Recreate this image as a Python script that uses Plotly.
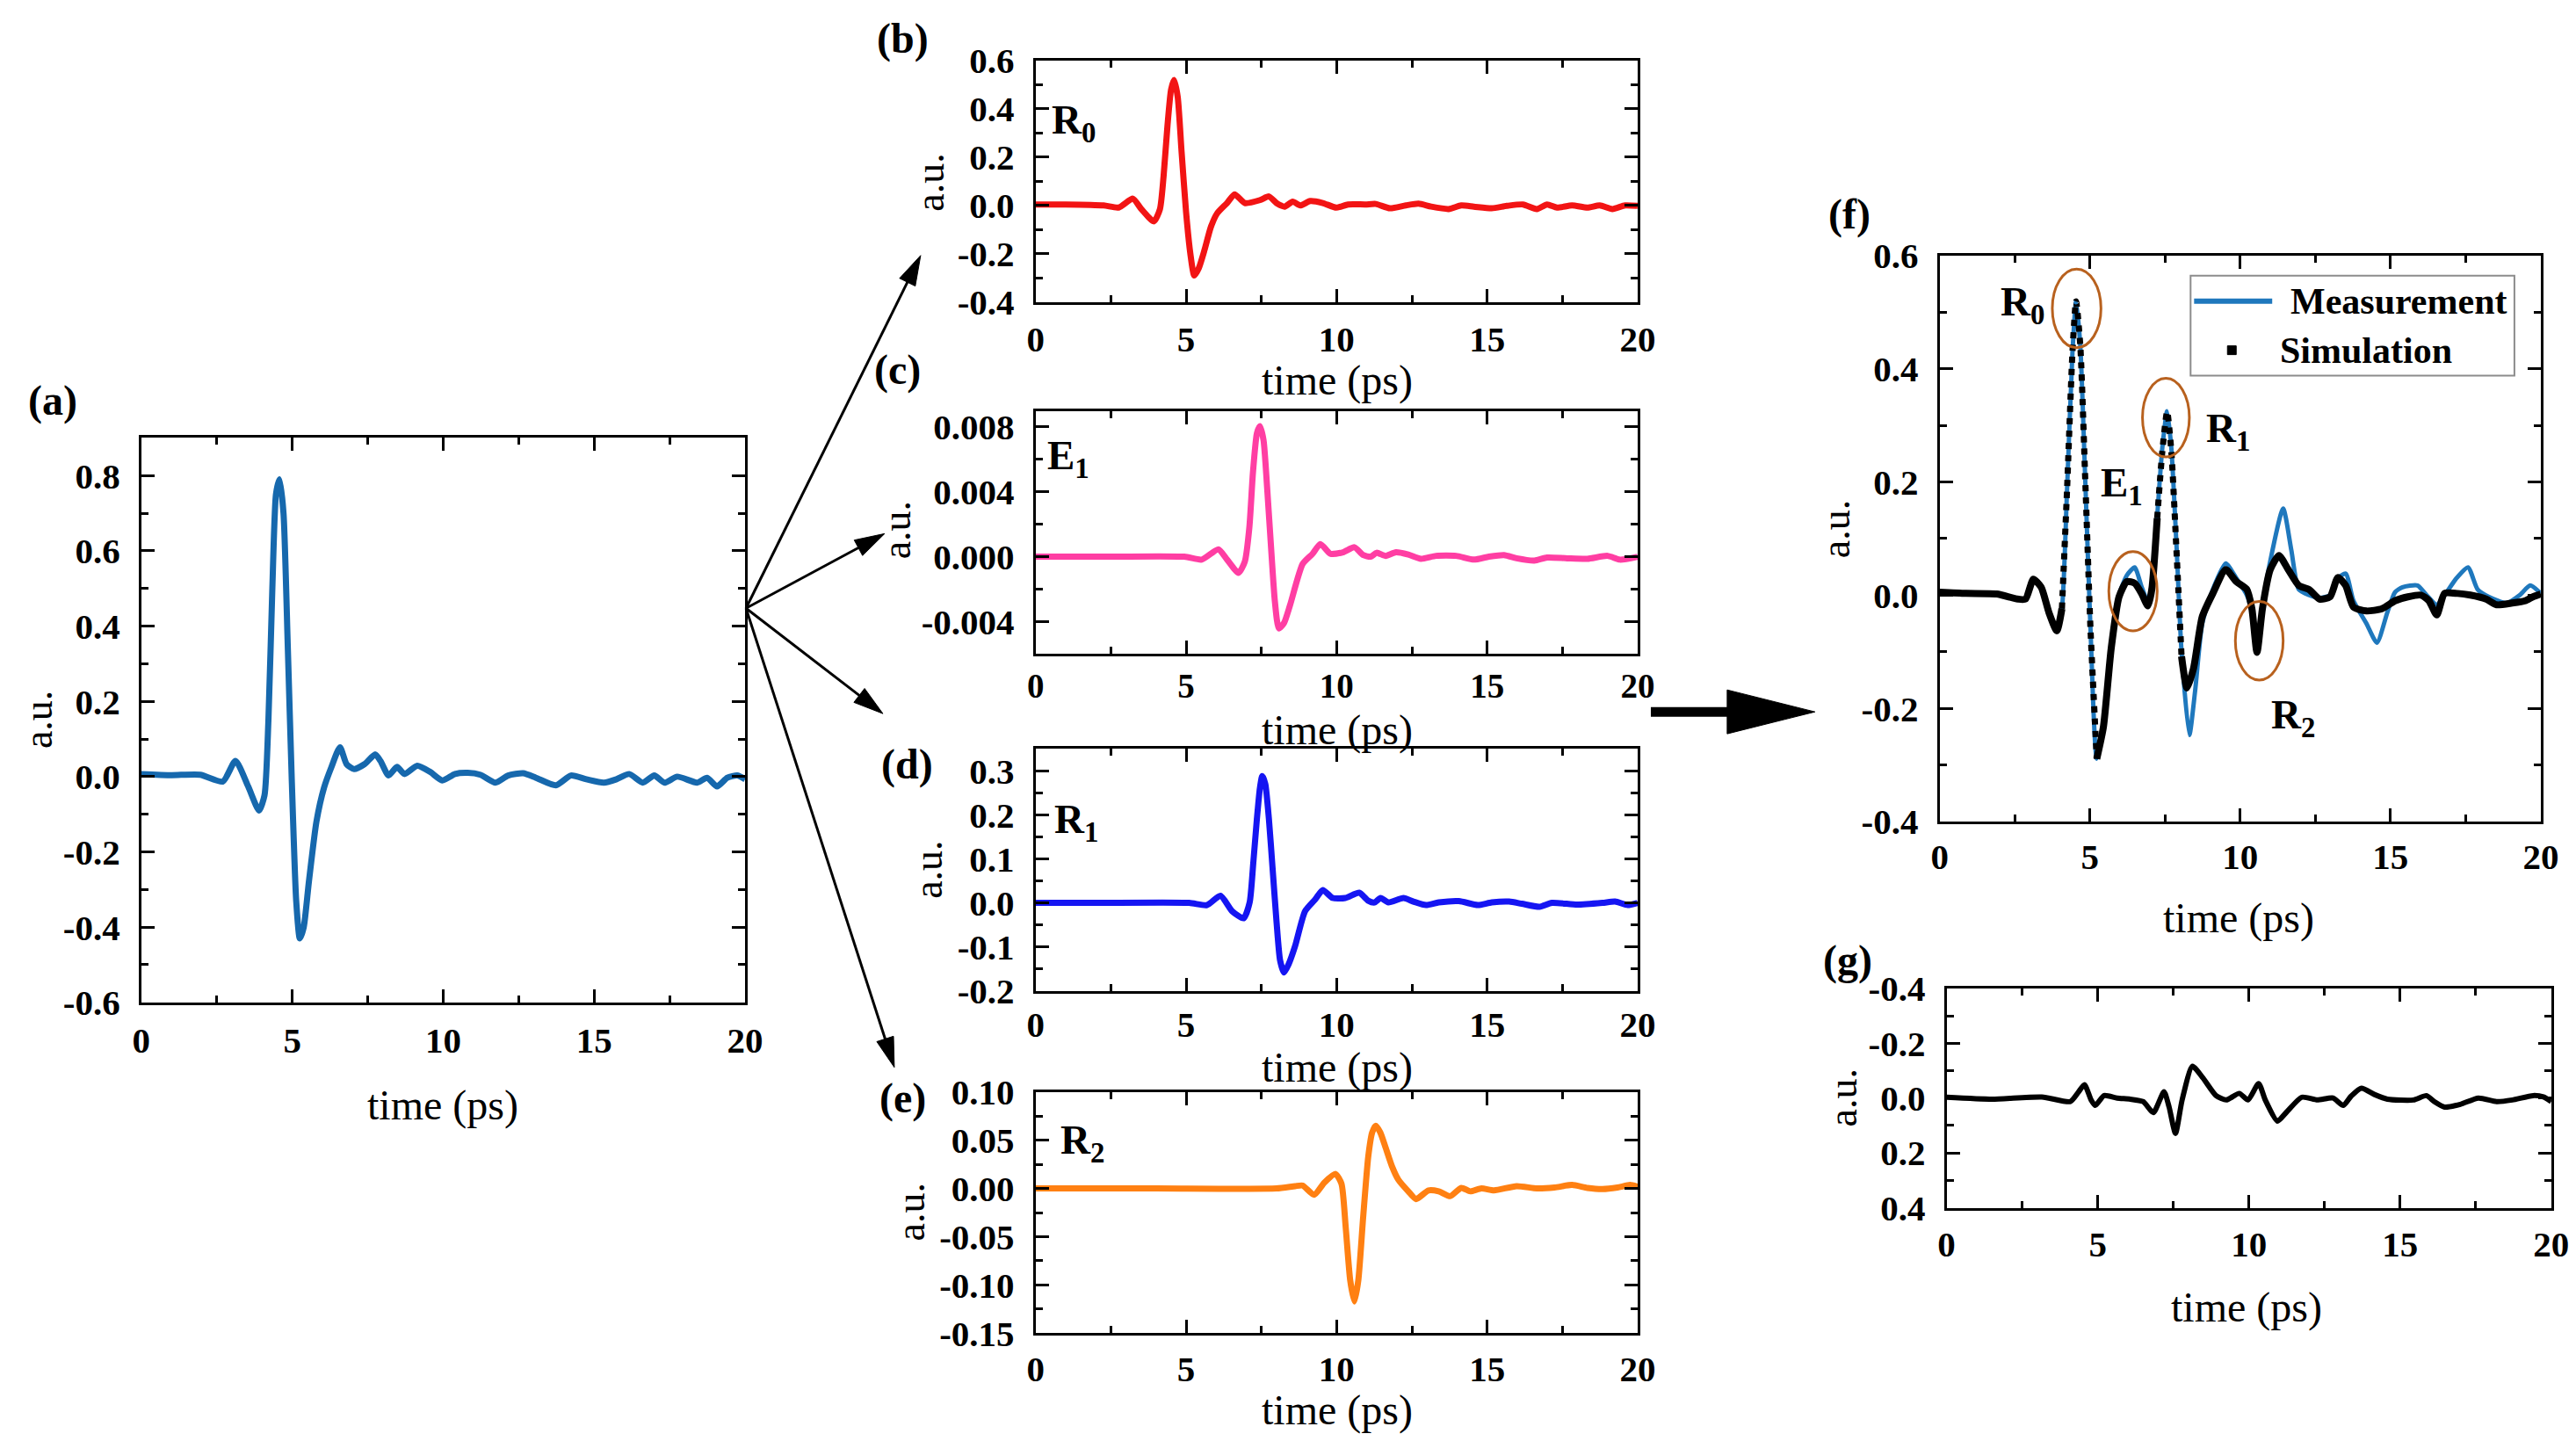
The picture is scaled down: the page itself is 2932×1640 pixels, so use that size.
import math
import plotly.graph_objects as go

# figure size; the photographed page maps figure pixels F to picture pixels R as
# R_x = OX + SX * F_x and R_y = OY + SY * F_y (measured), so positions are pre-compensated
W, H = 2932, 1640
OX, SX = 16.0, 0.9905
OY, SY = 30.0, 0.973
SERIF = "Liberation Serif"

# ---------------- data ----------------
# (a) measured THz signal
a_t = [0, 1.0, 1.95, 2.7, 3.12, 3.54, 3.9, 4.08, 4.21, 4.34, 4.46, 4.58, 4.71, 4.85, 4.98, 5.13, 5.25, 5.38,
       5.55, 5.8, 6.05, 6.3, 6.58, 6.8, 7.05, 7.39, 7.75, 7.92, 8.19, 8.47, 8.72, 9.14, 9.56, 9.97, 10.39,
       10.81, 11.23, 11.73, 12.15, 12.65, 13.07, 13.73, 14.23, 14.74, 15.32, 15.74, 16.16, 16.61, 16.99,
       17.33, 17.75, 18.41, 18.74, 19.07, 19.41, 19.74, 20]
a_v = [0.007, 0.004, 0.005, -0.013, 0.042, -0.026, -0.09, -0.05, 0.15, 0.5, 0.75, 0.79, 0.70, 0.35, 0.0, -0.33,
       -0.43, -0.40, -0.28, -0.12, -0.03, 0.026, 0.078, 0.033, 0.02, 0.033, 0.059, 0.042, 0.003, 0.026, 0.007,
       0.029, 0.013, -0.01, 0.007, 0.01, 0.005, -0.016, 0.003, 0.009, -0.003, -0.023, 0.003, -0.007, -0.016,
       -0.007, 0.007, -0.016, 0.003, -0.016, 0.0, -0.016, -0.003, -0.026, -0.003, 0.003, -0.007]

# (b) R0
b_t = [0, 1.0, 2.26, 2.76, 3.23, 3.51, 3.93, 4.13, 4.25, 4.38, 4.5, 4.6, 4.72, 4.85, 5.0, 5.14, 5.27, 5.42,
       5.61, 5.82, 6.03, 6.36, 6.61, 6.95, 7.45, 7.75, 8.03, 8.28, 8.54, 8.79, 9.12, 9.54, 9.99, 10.38, 10.96,
       11.3, 11.77, 12.3, 12.72, 13.14, 13.72, 14.14, 14.56, 15.15, 15.65, 16.19, 16.65, 16.99, 17.32, 17.82,
       18.33, 18.74, 19.16, 19.58, 20]
b_v = [0.004, 0.004, 0.0, -0.009, 0.028, -0.015, -0.066, -0.015, 0.12, 0.33, 0.48, 0.52, 0.45, 0.22, -0.03,
       -0.2, -0.29, -0.26, -0.185, -0.09, -0.033, 0.01, 0.046, 0.01, 0.022, 0.037, 0.007, -0.005, 0.016, 0.0,
       0.018, 0.01, -0.009, 0.004, 0.004, 0.006, -0.012, 0.0, 0.007, -0.005, -0.015, 0.0, -0.005, -0.012,
       -0.002, 0.004, -0.015, 0.004, -0.009, 0.0, -0.009, 0.0, -0.015, 0.0, -0.002]

# (c) E1
c_t = [0, 2.0, 4.94, 5.52, 6.07, 6.36, 6.74, 6.95, 7.1, 7.22, 7.35, 7.45, 7.57, 7.7, 7.82, 7.95, 8.08, 8.25,
       8.45, 8.87, 9.2, 9.46, 9.79, 10.21, 10.59, 10.88, 11.13, 11.33, 11.63, 11.97, 12.38, 12.8, 13.3, 13.97,
       14.56, 15.06, 15.56, 15.98, 16.57, 16.99, 17.66, 18.33, 19.0, 19.41, 20]
c_v = [0, 0, 0, -0.00018, 0.00045, -0.00018, -0.001, -0.0003, 0.0018, 0.0052, 0.0076, 0.00805, 0.0072, 0.004,
       0.0006, -0.0028, -0.00443, -0.0041, -0.003, -0.00045, 0.00018, 0.00078, 0.00018, 0.00027, 0.00058,
       0.0001, 0.0, 0.00024, 0.00005, 0.00027, 0.00013, -0.00013, 0.00005, 0.00005, -0.00018, 0.0, 0.0001,
       -0.0001, -0.00024, -0.00005, -0.0001, -0.00013, 0.00005, -0.00018, 0.0]

# (d) R1
d_t = [0, 2.0, 5.1, 5.69, 6.14, 6.53, 6.91, 7.11, 7.23, 7.35, 7.45, 7.53, 7.63, 7.75, 7.87, 8.0, 8.12, 8.25,
       8.4, 8.62, 8.95, 9.29, 9.54, 9.87, 10.29, 10.75, 11.05, 11.26, 11.46, 11.72, 12.22, 12.55, 12.97,
       13.39, 14.06, 14.69, 15.15, 15.73, 16.15, 16.74, 17.15, 17.99, 18.83, 19.25, 19.67, 20]
d_v = [0, 0, 0, -0.005, 0.016, -0.019, -0.035, 0.001, 0.09, 0.19, 0.26, 0.288, 0.27, 0.19, 0.08, -0.04, -0.13,
       -0.158, -0.14, -0.098, -0.019, 0.008, 0.029, 0.011, 0.011, 0.023, 0.005, 0.001, 0.011, 0.001, 0.011,
       0.003, -0.005, 0.001, 0.004, -0.005, 0.001, 0.003, -0.002, -0.009, 0.0, -0.004, 0.0, 0.003, -0.005, 0.0]

# (e) R2
e_t = [0, 4.0, 8.0, 8.62, 8.87, 9.25, 9.59, 9.96, 10.16, 10.3, 10.45, 10.59, 10.72, 10.88, 11.05, 11.18,
       11.3, 11.45, 11.63, 11.85, 12.05, 12.38, 12.64, 13.05, 13.39, 13.77, 14.14, 14.44, 14.81, 15.23,
       15.98, 16.65, 17.24, 17.82, 18.33, 18.83, 19.33, 19.75, 20]
e_v = [0, 0, 0, 0.0024, 0.003, -0.0066, 0.006, 0.015, 0.005, -0.04, -0.095, -0.117, -0.095, -0.03, 0.033,
       0.058, 0.065, 0.058, 0.042, 0.022, 0.009, -0.003, -0.011, -0.002, -0.003, -0.008, 0.0006, -0.003, 0.0,
       -0.002, 0.0024, 0.0, 0.001, 0.0036, 0.0006, -0.0006, 0.001, 0.0036, 0.0018]

# (f) measurement vs simulation
meas_t = [0, 0.87, 1.9, 2.6, 2.86, 3.12, 3.38, 3.64, 3.9, 4.07, 4.24, 4.42, 4.54, 4.68, 4.85, 5.02, 5.23, 5.45,
          5.71, 5.97, 6.23, 6.49, 6.72, 6.93, 7.06, 7.24, 7.41, 7.57, 7.71, 7.88, 8.05, 8.31, 8.5, 8.74, 9.09,
          9.52, 9.87, 10.22, 10.39, 10.56, 10.74, 11.0, 11.43, 11.7, 11.95, 12.29, 12.64, 12.99, 13.25, 13.51,
          13.77, 14.2, 14.55, 14.9, 15.15, 15.4, 15.9, 16.2, 16.54, 16.8, 17.2, 17.58, 17.9, 18.27, 18.87,
          19.3, 19.65, 20]
meas_v = [0.005, 0.003, 0.002, -0.007, -0.007, 0.028, 0.014, -0.031, -0.063, -0.024, 0.185, 0.428, 0.519, 0.442,
          0.198, -0.059, -0.289, -0.233, -0.094, 0.0, 0.035, 0.049, 0.015, -0.012, 0.02, 0.14, 0.26, 0.325,
          0.26, 0.09, -0.1, -0.247, -0.17, -0.05, 0.01, 0.056, 0.03, 0.0, -0.03, -0.09, -0.02, 0.06, 0.153,
          0.08, 0.01, 0.0, -0.005, 0.0, 0.03, 0.038, -0.01, -0.05, -0.084, -0.03, 0.005, 0.014, 0.017, 0.0,
          -0.017, 0.0, 0.03, 0.049, 0.01, -0.003, -0.014, 0.0, 0.017, 0.003]
sim_t = [0, 0.87, 1.9, 2.6, 2.86, 3.12, 3.38, 3.64, 3.9, 4.07, 4.24, 4.42, 4.54, 4.68, 4.85, 5.02, 5.23, 5.45,
         5.71, 5.97, 6.23, 6.49, 6.72, 6.93, 7.06, 7.24, 7.41, 7.57, 7.71, 7.88, 8.05, 8.23, 8.45, 8.74, 9.09,
         9.52, 9.87, 10.22, 10.39, 10.56, 10.74, 11.0, 11.29, 11.6, 11.95, 12.29, 12.64, 12.99, 13.25, 13.51,
         13.77, 14.2, 14.72, 15.15, 15.58, 16.02, 16.28, 16.54, 16.8, 17.23, 17.66, 18.18, 18.53, 19.05, 19.48,
         19.74, 20]
sim_v = [0.005, 0.003, 0.002, -0.007, -0.007, 0.028, 0.014, -0.031, -0.063, -0.024, 0.185, 0.428, 0.519, 0.442,
         0.198, -0.059, -0.289, -0.233, -0.094, -0.003, 0.024, 0.021, 0.003, -0.019, 0.01, 0.136, 0.254, 0.324,
         0.254, 0.08, -0.108, -0.164, -0.129, -0.038, 0.003, 0.045, 0.024, 0.01, -0.024, -0.101, -0.024, 0.045,
         0.07, 0.045, 0.017, 0.01, -0.007, -0.003, 0.031, 0.017, -0.021, -0.028, -0.024, -0.010, -0.003, 0.0,
         -0.010, -0.035, 0.003, 0.003, 0.0, -0.007, -0.017, -0.014, -0.01, -0.003, 0.002]

# (g) residual
g_t = [0, 1.51, 3.15, 4.09, 4.35, 4.56, 4.78, 4.92, 5.21, 5.64, 6.07, 6.5, 6.84, 7.19, 7.36, 7.57, 7.79, 8.13,
       8.48, 8.91, 9.25, 9.68, 9.97, 10.32, 10.54, 10.94, 11.23, 11.75, 12.26, 12.78, 13.12, 13.38, 13.72,
       14.15, 14.58, 15.44, 15.87, 16.13, 16.47, 16.99, 17.59, 18.19, 18.71, 19.4, 19.74, 20]
g_v = [-0.003, 0.004, -0.004, 0.013, -0.02, -0.049, 0.007, 0.027, -0.009, 0, 0.004, 0.013, 0.053, -0.023, 0.033,
       0.129, 0.007, -0.116, -0.073, -0.009, 0.007, -0.017, 0.007, -0.053, 0.007, 0.084, 0.053, -0.003, 0.007,
       0, 0.027, -0.007, -0.036, -0.013, 0.004, 0.007, -0.009, 0.013, 0.033, 0.023, 0, 0.013, 0.007, -0.009,
       -0.004, 0.013]

# tick labels
x_ticks = ["0", "5", "10", "15", "20"]
a_yticks = ["-0.6", "-0.4", "-0.2", "0.0", "0.2", "0.4", "0.6", "0.8"]
b_yticks = ["-0.4", "-0.2", "0.0", "0.2", "0.4", "0.6"]
c_yticks = ["-0.004", "0.000", "0.004", "0.008"]
d_yticks = ["-0.2", "-0.1", "0.0", "0.1", "0.2", "0.3"]
e_yticks = ["-0.15", "-0.10", "-0.05", "0.00", "0.05", "0.10"]
f_yticks = ["-0.4", "-0.2", "0.0", "0.2", "0.4", "0.6"]
g_yticks = ["-0.4", "-0.2", "0.0", "0.2", "0.4"]

# annotation markers in (f): ellipses (t0, t1, v0, v1) and labels
f_circles = [(3.75, 5.37, 0.437, 0.576), (5.63, 7.24, -0.063, 0.077),
             (6.75, 8.31, 0.244, 0.383), (9.84, 11.43, -0.15, -0.011)]
f_labels = [("R<sub>0</sub>", 2.77, 0.513), ("E<sub>1</sub>", 6.06, 0.194),
            ("R<sub>1</sub>", 9.6, 0.29), ("R<sub>2</sub>", 11.77, -0.216)]


# ---------------- layout helpers (positions given in picture pixels) ----------------
def px(x):
    return min(1.0, max(0.0, ((x - OX) / SX) / W))


def py(y):
    return min(1.0, max(0.0, 1 - ((y - OY) / SY) / H))


# panel plot areas in picture pixels: x0, x1, ytop, ybottom, x-label standoff, x-label size
panels = {
    1: (159, 847, 498, 1141, 5, 41),
    2: (1178, 1864, 68, 343, 4, 41),
    3: (1178, 1864, 467, 744, 0, 39),
    4: (1178, 1864, 852, 1128, 0, 41),
    5: (1178, 1864, 1243, 1518, 2, 41),
    6: (2208, 2893, 290, 935, 2, 41),
    7: (2216, 2905, 1125, 1375, 3, 41),
}
yranges = {1: [-0.6, 0.9], 2: [-0.4, 0.6], 3: [-0.006, 0.009], 4: [-0.2, 0.35],
           5: [-0.15, 0.10], 6: [-0.4, 0.6], 7: [0.4, -0.4]}
yticks = {1: a_yticks, 2: b_yticks, 3: c_yticks, 4: d_yticks, 5: e_yticks, 6: f_yticks, 7: g_yticks}
yminor_step = {1: 0.1, 2: 0.1, 3: 0.002, 4: 0.05, 5: 0.025, 6: 0.1, 7: 0.1}

fig = go.Figure()
layout = dict(width=W, height=H, margin=dict(l=0, r=0, t=0, b=0), autosize=False,
              paper_bgcolor="white", plot_bgcolor="white", showlegend=False)


def tickfont(size):
    return dict(family=SERIF, size=size, color="black", weight="bold")


def minor_vals(lo, hi, step):
    lo, hi = min(lo, hi), max(lo, hi)
    n = int(round((hi - lo) / step))
    return [round(lo + i * step, 6) for i in range(n + 1)]


for k, (x0, x1, yt, yb, so, xfs) in panels.items():
    sfx = "" if k == 1 else str(k)
    common = dict(showline=True, linewidth=3, linecolor="black", mirror="allticks",
                  ticks="inside", ticklen=15, tickwidth=3, tickcolor="black",
                  showgrid=False, zeroline=False)
    layout["xaxis" + sfx] = dict(
        domain=[px(x0), px(x1)], range=[0, 20], anchor="y" + sfx,
        tickmode="array", tickvals=[float(s) for s in x_ticks], ticktext=x_ticks,
        minor=dict(tickmode="array", tickvals=minor_vals(0, 20, 2.5), ticklen=8, tickwidth=3,
                   tickcolor="black", ticks="inside"),
        ticklabelstandoff=so, tickfont=tickfont(xfs), **common)
    yr = yranges[k]
    layout["yaxis" + sfx] = dict(
        domain=[py(yb), py(yt)], range=yr, anchor="x" + sfx,
        tickmode="array", tickvals=[float(s) for s in yticks[k]], ticktext=yticks[k],
        minor=dict(tickmode="array", tickvals=minor_vals(yr[0], yr[1], yminor_step[k]), ticklen=8,
                   tickwidth=3, tickcolor="black", ticks="inside"),
        ticklabelstandoff=13, tickfont=tickfont(41), **common)


def line_trace(t, v, k, color, width, name=None, dash="solid"):
    sfx = "" if k == 1 else str(k)
    return go.Scatter(x=t, y=v, mode="lines", xaxis="x" + sfx, yaxis="y" + sfx,
                      line=dict(color=color, width=width, shape="spline", smoothing=0.6, dash=dash),
                      name=name, showlegend=False, hoverinfo="skip")


fig.add_trace(line_trace(a_t, a_v, 1, "#1668ad", 7, "signal"))
fig.add_trace(line_trace(b_t, b_v, 2, "#f21414", 7, "R0"))
fig.add_trace(line_trace(c_t, c_v, 3, "#ff3ea3", 7, "E1"))
fig.add_trace(line_trace(d_t, d_v, 4, "#1515f2", 7, "R1"))
fig.add_trace(line_trace(e_t, e_v, 5, "#ff8012", 7, "R2"))
MEAS_COLOR = "#1f78bd"
fig.add_trace(line_trace(meas_t, meas_v, 6, MEAS_COLOR, 5, "Measurement"))

# simulation: solid where flat, dotted where the signal is steep
dotted_ranges = [(4.07, 5.23), (7.24, 8.05)]


def is_dotted(i0, i1):
    for lo, hi in dotted_ranges:
        if sim_t[i0] >= lo - 1e-9 and sim_t[i1] <= hi + 1e-9:
            return True
    return False


breaks = sorted({0, len(sim_t) - 1} | {min(range(len(sim_t)), key=lambda i: abs(sim_t[i] - b))
                                        for r in dotted_ranges for b in r})
for s, e in zip(breaks[:-1], breaks[1:]):
    dot = is_dotted(s, e)
    fig.add_trace(line_trace(sim_t[s:e + 1], sim_v[s:e + 1], 6, "black", 7 if dot else 8, "Simulation",
                             dash="dot" if dot else "solid"))
fig.add_trace(line_trace(g_t, g_v, 7, "black", 6, "residual"))

annotations = []
shapes = []


def text(x, y, s, size=44, bold=False, angle=0, xanchor="center"):
    annotations.append(dict(xref="paper", yref="paper", x=px(x), y=py(y), text=s, showarrow=False,
                            textangle=angle, xanchor=xanchor, yanchor="middle",
                            font=dict(family=SERIF, size=size, color="black",
                                      weight="bold" if bold else "normal")))


# panel letters
for s, x, y in [("(a)", 58, 455), ("(b)", 1027, 43), ("(c)", 1021, 420), ("(d)", 1032, 870),
                ("(e)", 1027, 1250), ("(f)", 2105, 243), ("(g)", 2103, 1093)]:
    text(x, y, s, size=48, bold=True)
# axis titles
for x, y in [(41, 819), (1058, 207), (1019, 603), (1056, 990), (1036, 1380), (2090, 602), (2098, 1250)]:
    text(x, y, "a.u.", size=46, angle=-90)
for x, y in [(503, 1258), (1522, 432), (1522, 831), (1522, 1215), (1522, 1606), (2549, 1045), (2558, 1489)]:
    text(x, y, "time (ps)", size=48)

# component labels inside b-e and in f
for k, s, t, v in [(2, "R<sub>0</sub>", 1.25, 0.345), (3, "E<sub>1</sub>", 1.1, 0.0061),
                   (4, "R<sub>1</sub>", 1.35, 0.184), (5, "R<sub>2</sub>", 1.55, 0.047)]:
    annotations.append(dict(xref="x%d" % k, yref="y%d" % k, x=t, y=v, text=s, showarrow=False,
                            font=dict(family=SERIF, size=47, color="black", weight="bold")))
for s, t, v in f_labels:
    annotations.append(dict(xref="x6", yref="y6", x=t, y=v, text=s, showarrow=False,
                            font=dict(family=SERIF, size=47, color="black", weight="bold")))
for t0, t1, v0, v1 in f_circles:
    shapes.append(dict(type="circle", xref="x6", yref="y6", x0=t0, x1=t1, y0=v0, y1=v1,
                       line=dict(color="#b8611e", width=3)))

# legend of (f), drawn as a framed key
shapes.append(dict(type="rect", xref="paper", yref="paper", x0=px(2494), x1=px(2863), y0=py(427), y1=py(313),
                   line=dict(color="#8c8c8c", width=2), fillcolor="white", layer="above"))
shapes.append(dict(type="line", xref="paper", yref="paper", x0=px(2498), x1=px(2587), y0=py(342), y1=py(342),
                   line=dict(color=MEAS_COLOR, width=6), layer="above"))
shapes.append(dict(type="rect", xref="paper", yref="paper", x0=px(2536), x1=px(2546), y0=py(403), y1=py(393),
                   line=dict(color="black", width=1), fillcolor="black", layer="above"))
text(2606, 342, "Measurement", size=42, bold=True, xanchor="left")
text(2594, 398, "Simulation", size=42, bold=True, xanchor="left")


def arrow(x0, y0, x1, y1, width, hl, hw):
    dx, dy = x1 - x0, y1 - y0
    L = math.hypot(dx, dy)
    ux, uy = dx / L, dy / L
    bx, by = x1 - ux * hl, y1 - uy * hl
    nx, ny = -uy, ux
    shapes.append(dict(type="line", xref="paper", yref="paper", x0=px(x0), y0=py(y0),
                       x1=px(bx + ux * 2), y1=py(by + uy * 2), line=dict(color="black", width=width)))
    pts = [(x1, y1), (bx + nx * hw, by + ny * hw), (bx - nx * hw, by - ny * hw)]
    path = "M " + " L ".join("%.5f,%.5f" % (px(a), py(b)) for a, b in pts) + " Z"
    shapes.append(dict(type="path", xref="paper", yref="paper", path=path,
                       fillcolor="black", line=dict(color="black", width=1)))


origin = (848, 692)
for tip in [(1047, 290), (1006, 607), (1004, 812), (1017, 1215)]:
    arrow(origin[0], origin[1], tip[0], tip[1], 3, 34, 10)
arrow(1879, 810, 2066, 810, 11, 100, 25)

layout["annotations"] = annotations
layout["shapes"] = shapes
fig.update_layout(**layout)
fig.write_html("out.html")
